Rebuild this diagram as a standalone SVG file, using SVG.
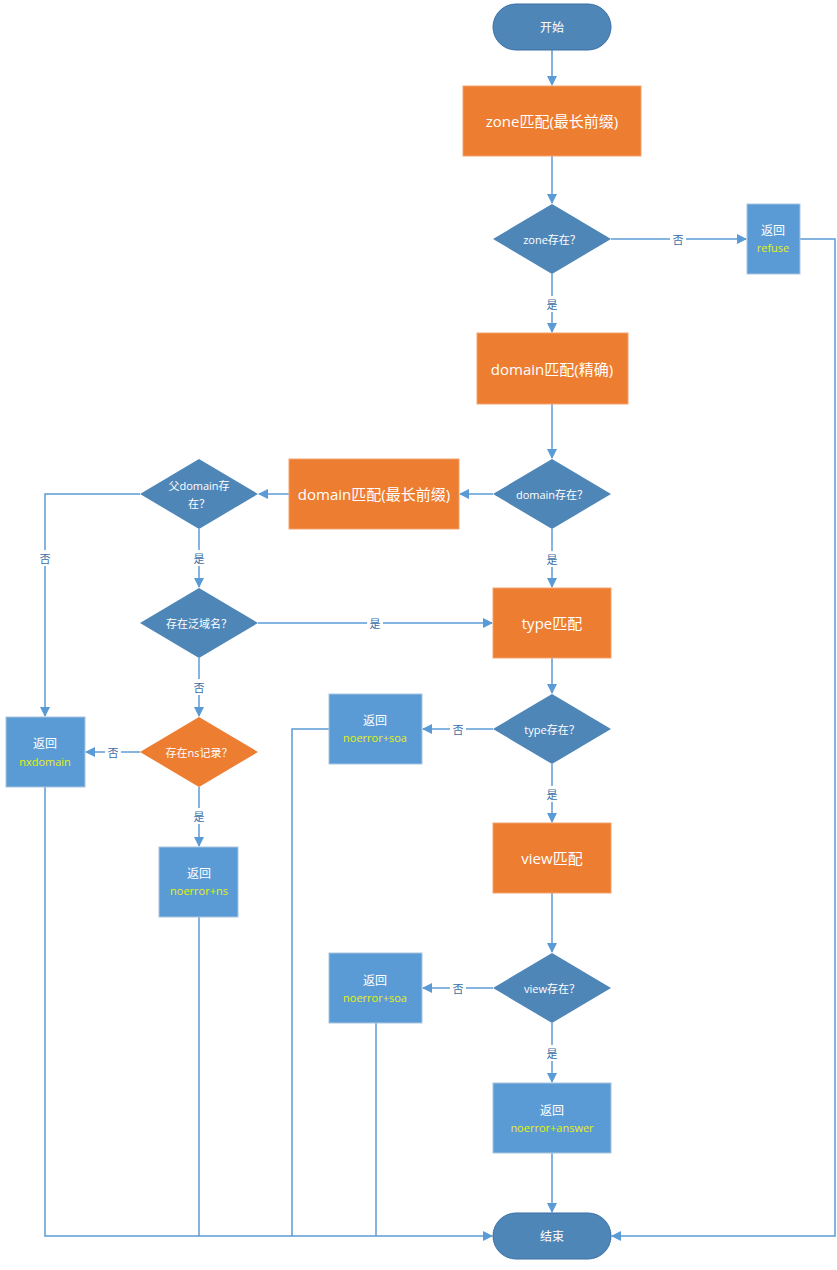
<svg xmlns="http://www.w3.org/2000/svg" width="837" height="1270" viewBox="0 0 837 1270">
<style>
text{font-family:"Open Sans","Noto Sans CJK SC",sans-serif;fill:#fff;text-anchor:middle;dominant-baseline:central}
.t{font-size:12px}.b{font-size:15px}.s{font-size:11px}.y{fill:#e5f20a}
.lab{font-size:11px;fill:#3a6ea5}
.o{fill:#ed7d31;stroke:#f3a46f;stroke-width:1}
.d{fill:#4f86b8}.r{fill:#5b9bd5;stroke:#a9c4e0;stroke-width:1}.term{fill:#4f86b8;stroke:#3a6ea5}
.c{fill:none;stroke:#5b9bd5;stroke-width:1.5}
.lb{fill:#fff}
</style>
<defs><marker id="a" markerWidth="10" markerHeight="10" refX="9" refY="5" orient="auto" markerUnits="userSpaceOnUse"><path d="M0,0L10,5L0,10z" fill="#5b9bd5"/></marker></defs>
<g id="connectors">
<path class="c" d="M552,50V85" marker-end="url(#a)"/>
<path class="c" d="M552,156V203" marker-end="url(#a)"/>
<path class="c" d="M611,239H746" marker-end="url(#a)"/>
<path class="c" d="M552,274V332" marker-end="url(#a)"/>
<path class="c" d="M552,404V458" marker-end="url(#a)"/>
<path class="c" d="M493,494H460" marker-end="url(#a)"/>
<path class="c" d="M289,494H259" marker-end="url(#a)"/>
<path class="c" d="M552,529V587" marker-end="url(#a)"/>
<path class="c" d="M140,494H45V716" marker-end="url(#a)"/>
<path class="c" d="M199,529V587" marker-end="url(#a)"/>
<path class="c" d="M258,623H492" marker-end="url(#a)"/>
<path class="c" d="M199,658V716" marker-end="url(#a)"/>
<path class="c" d="M140,752H86" marker-end="url(#a)"/>
<path class="c" d="M199,787V846" marker-end="url(#a)"/>
<path class="c" d="M552,658V693" marker-end="url(#a)"/>
<path class="c" d="M493,729H423" marker-end="url(#a)"/>
<path class="c" d="M552,764V822" marker-end="url(#a)"/>
<path class="c" d="M552,893V952" marker-end="url(#a)"/>
<path class="c" d="M493,988H423" marker-end="url(#a)"/>
<path class="c" d="M552,1023V1082" marker-end="url(#a)"/>
<path class="c" d="M552,1153V1212" marker-end="url(#a)"/>
<path class="c" d="M45,787V1236H492" marker-end="url(#a)"/>
<path class="c" d="M199,917V1236"/>
<path class="c" d="M329,729H292V1236"/>
<path class="c" d="M376,1023V1236"/>
<path class="c" d="M800,239H835V1236H612" marker-end="url(#a)"/>
<rect class="lb" x="670" y="231" width="16" height="16"/><text class="lab" x="678" y="239">否</text>
<rect class="lb" x="544" y="296" width="16" height="16"/><text class="lab" x="552" y="304">是</text>
<rect class="lb" x="544" y="551" width="16" height="16"/><text class="lab" x="552" y="559">是</text>
<rect class="lb" x="37" y="550" width="16" height="16"/><text class="lab" x="45" y="558">否</text>
<rect class="lb" x="191" y="550" width="16" height="16"/><text class="lab" x="199" y="558">是</text>
<rect class="lb" x="367" y="615" width="16" height="16"/><text class="lab" x="375" y="623">是</text>
<rect class="lb" x="191" y="679" width="16" height="16"/><text class="lab" x="199" y="687">否</text>
<rect class="lb" x="105" y="744" width="16" height="16"/><text class="lab" x="113" y="752">否</text>
<rect class="lb" x="191" y="808" width="16" height="16"/><text class="lab" x="199" y="816">是</text>
<rect class="lb" x="450" y="721" width="16" height="16"/><text class="lab" x="458" y="729">否</text>
<rect class="lb" x="544" y="786" width="16" height="16"/><text class="lab" x="552" y="794">是</text>
<rect class="lb" x="450" y="980" width="16" height="16"/><text class="lab" x="458" y="988">否</text>
<rect class="lb" x="544" y="1045" width="16" height="16"/><text class="lab" x="552" y="1053">是</text>
</g>
<g id="start"><rect class="term" x="493" y="4" width="118" height="46" rx="23"/><text class="t" x="552" y="27">开始</text></g>
<g id="zone"><rect class="o" x="463" y="86" width="178" height="70"/><text class="b" x="552" y="121">zone匹配(最长前缀)</text></g>
<g id="zoneq"><path class="d" d="M493,239L552,204L611,239L552,274z"/><text class="s" x="552" y="239">zone存在？</text></g>
<g id="refuse"><rect class="r" x="747" y="204" width="53" height="70"/><text class="t" x="773" y="230">返回</text><text class="s y" x="773" y="247">refuse</text></g>
<g id="domain"><rect class="o" x="477" y="333" width="151" height="71"/><text class="b" x="552" y="369">domain匹配(精确)</text></g>
<g id="domainq"><path class="d" d="M493,494L552,459L611,494L552,529z"/><text class="s" x="552" y="494">domain存在？</text></g>
<g id="prefix"><rect class="o" x="289" y="459" width="170" height="70"/><text class="b" x="374" y="494">domain匹配(最长前缀)</text></g>
<g id="parentq"><path class="d" d="M140,494L199,459L258,494L199,529z"/><text class="s" x="199" y="485">父domain存</text><text class="s" x="199" y="503">在？</text></g>
<g id="wildq"><path class="d" d="M140,623L199,588L258,623L199,658z"/><text class="s" x="199" y="623">存在泛域名？</text></g>
<g id="type"><rect class="o" x="493" y="588" width="118" height="70"/><text class="b" x="552" y="623">type匹配</text></g>
<g id="typeq"><path class="d" d="M493,729L552,694L611,729L552,764z"/><text class="s" x="552" y="729">type存在？</text></g>
<g id="soa1"><rect class="r" x="329" y="694" width="93" height="70"/><text class="t" x="375" y="720">返回</text><text class="s y" x="375" y="737">noerror+soa</text></g>
<g id="nx"><rect class="r" x="6" y="717" width="79" height="70"/><text class="t" x="45" y="743">返回</text><text class="s y" x="45" y="761">nxdomain</text></g>
<g id="nsq"><path class="o" style="stroke:none" d="M140,752L199,717L258,752L199,787z"/><text class="s" x="199" y="752">存在ns记录？</text></g>
<g id="ns"><rect class="r" x="159" y="847" width="79" height="70"/><text class="t" x="199" y="873">返回</text><text class="s y" x="199" y="890">noerror+ns</text></g>
<g id="view"><rect class="o" x="493" y="823" width="118" height="70"/><text class="b" x="552" y="858">view匹配</text></g>
<g id="viewq"><path class="d" d="M493,988L552,953L611,988L552,1023z"/><text class="s" x="552" y="988">view存在？</text></g>
<g id="soa2"><rect class="r" x="329" y="953" width="93" height="70"/><text class="t" x="375" y="980">返回</text><text class="s y" x="375" y="997">noerror+soa</text></g>
<g id="answer"><rect class="r" x="493" y="1083" width="118" height="70"/><text class="t" x="552" y="1110">返回</text><text class="s y" x="552" y="1127">noerror+answer</text></g>
<g id="end"><rect class="term" x="493" y="1213" width="118" height="46" rx="23"/><text class="t" x="552" y="1236">结束</text></g>
</svg>
